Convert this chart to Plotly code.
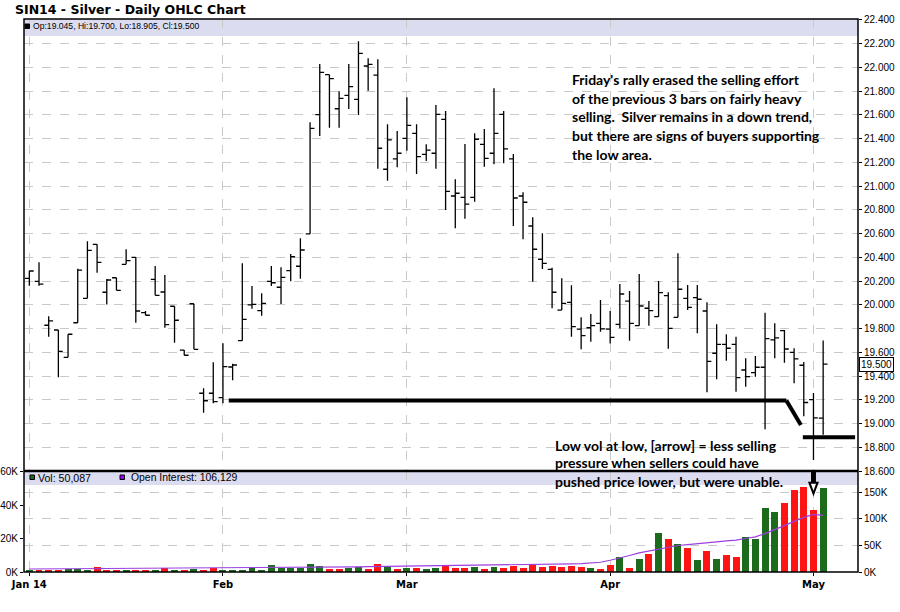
import pandas as pd
import plotly.graph_objects as go

# ---------------- data ----------------
holidays = ["2014-01-20", "2014-02-17", "2014-04-18"]
trading_days = [d for d in pd.bdate_range("2014-01-03", "2014-05-02")
                if d.strftime("%Y-%m-%d") not in holidays]
month_labels = ["Jan 14", "Feb", "Mar", "Apr", "May"]

opens = [20.223, 20.198, 19.828, 19.788, 19.558, 19.849, 20.055, 20.510, 20.106, 20.228,
         20.341, 20.400, 19.934, 20.215, 20.108, 19.988, 19.619, 20.009, 19.255, 19.255,
         19.219, 19.476, 19.698, 19.999, 19.951, 20.198, 20.148, 20.288, 20.325, 20.597,
         21.602, 21.939, 21.652, 21.765, 21.731, 22.012, 21.936, 21.142, 21.229, 21.403,
         21.445, 21.268, 21.277, 21.563, 20.917, 20.906, 20.906, 21.352, 21.277, 21.605,
         21.229, 20.917, 20.664, 20.384, 20.299, 19.956, 20.021, 19.796, 19.807, 19.844,
         19.796, 19.836, 20.032, 19.824, 19.971, 19.900, 20.077, 19.895, 20.055, 20.060,
         19.948, 19.592, 19.667, 19.667, 19.451, 19.428, 19.474, 19.704, 19.782, 19.600,
         19.491, 19.201, 19.045]
highs = [20.288, 20.358, 19.903, 19.788, 19.752, 20.304, 20.535, 20.510, 20.218, 20.228,
         20.468, 20.400, 19.948, 20.327, 20.251, 19.988, 19.619, 20.009, 19.297, 19.516,
         19.676, 19.503, 20.350, 20.159, 20.097, 20.327, 20.316, 20.428, 20.560, 21.538,
         22.029, 21.939, 21.799, 22.029, 22.220, 22.077, 22.068, 21.521, 21.464, 21.748,
         21.521, 21.352, 21.683, 21.633, 21.058, 21.355, 21.445, 21.481, 21.824, 21.633,
         21.271, 20.948, 20.737, 20.603, 20.313, 20.223, 20.164, 19.895, 19.923, 20.041,
         19.948, 20.175, 20.116, 20.260, 20.032, 20.201, 20.106, 20.434, 20.167, 20.167,
         20.021, 19.836, 19.752, 19.731, 19.550, 19.569, 19.934, 19.844, 19.788, 19.634,
         19.518, 19.257, 19.700]
lows = [20.161, 20.161, 19.731, 19.389, 19.558, 19.849, 20.055, 20.271, 20.003, 20.122,
        20.341, 19.849, 19.912, 20.080, 19.807, 19.681, 19.575, 19.625, 19.091, 19.170,
        19.170, 19.364, 19.698, 19.967, 19.908, 20.159, 20.007, 20.198, 20.220, 20.597,
        21.422, 21.492, 21.492, 21.650, 21.599, 21.804, 21.147, 21.046, 21.159, 21.298,
        21.102, 21.212, 21.147, 20.799, 20.645, 20.726, 20.869, 21.164, 21.184, 21.192,
        20.664, 20.552, 20.195, 20.302, 19.971, 19.956, 19.731, 19.625, 19.689, 19.774,
        19.674, 19.802, 19.698, 19.824, 19.824, 19.900, 19.630, 19.895, 19.956, 19.760,
        19.263, 19.373, 19.529, 19.268, 19.310, 19.395, 18.951, 19.550, 19.512, 19.339,
        19.061, 18.693, 18.905]
closes = [20.285, 20.175, 19.864, 19.608, 19.752, 20.293, 20.459, 20.358, 20.209, 20.122,
          20.372, 19.948, 19.912, 20.080, 19.833, 19.870, 19.575, 19.625, 19.192, 19.184,
          19.480, 19.493, 19.878, 20.004, 20.013, 20.186, 20.232, 20.405, 20.462, 21.487,
          21.959, 21.905, 21.740, 21.838, 22.119, 22.026, 21.319, 21.389, 21.277, 21.512,
          21.248, 21.304, 21.605, 20.956, 20.940, 20.849, 21.395, 21.234, 21.445, 21.313,
          20.900, 20.864, 20.468, 20.350, 20.106, 20.013, 19.816, 19.740, 19.824, 19.798,
          19.726, 20.091, 19.844, 19.990, 19.951, 20.102, 19.802, 20.131, 19.979, 20.047,
          19.524, 19.667, 19.634, 19.386, 19.395, 19.474, 19.716, 19.722, 19.628, 19.544,
          19.177, 19.047, 19.500]
volume = [1000, 1000, 1400, 1400, 1800, 1800, 1000, 3000, 1000, 1000,
          1000, 1000, 1000, 1000, 2200, 1400, 1000, 2000, 1000, 2400,
          1000, 1000, 1400, 2600, 1200, 4000, 2600, 2600, 2200, 4500,
          3500, 2000, 2000, 2500, 3000, 1800, 5000, 3000, 2000, 2500,
          2500, 1500, 2500, 4000, 2500, 2500, 3000, 2000, 3000, 2500,
          3500, 2500, 4000, 3000, 3500, 3000, 3500, 3000, 2500, 2000,
          4000, 8900, 2400, 8000, 10500, 23200, 19500, 16500, 14100, 7000,
          12500, 7600, 9900, 8900, 20900, 19500, 38400, 35600, 41100, 49300,
          51100, 36800, 50087]
open_interest = [5600, 5700, 5800, 5900, 6000, 6000, 6100, 6200, 6200, 6300,
                 6300, 6400, 6400, 6500, 6500, 6600, 6600, 6700, 6700, 6800,
                 6900, 7000, 7200, 7400, 7600, 7800, 8000, 8200, 8400, 8700,
                 9000, 9200, 9400, 9600, 9800, 10000, 10200, 10400, 10600, 10800,
                 11000, 11200, 11400, 11600, 11800, 12000, 12200, 12400, 12600, 12800,
                 13100, 13400, 13700, 14000, 14400, 14800, 15300, 15900, 16600, 18300,
                 22000, 26000, 31000, 36000, 39500, 43000, 47000, 49700, 51500, 52700,
                 54600, 56500, 58400, 59700, 62800, 65900, 72000, 79800, 87300, 94900,
                 102400, 108000, 106129]

# support / trend lines drawn on the chart (bar index, price)
support_line_x = [20.6, 78.2, 79.7]
support_line_y = [19.194, 19.194, 18.988]
low_line_x = [79.9, 85.3]
low_line_y = [18.884, 18.884]
arrow_bar = 81

note1 = ["Friday's rally erased the selling effort",
         "of the previous 3 bars on fairly heavy",
         "selling.  Silver remains in a down trend,",
         "but there are signs of buyers supporting",
         "the low area."]
note2 = ["Low vol at low, [arrow] = less selling",
         "pressure when sellers could have",
         "pushed price lower, but were unable."]

# ---------------- helpers ----------------
n = len(trading_days)
idx = list(range(n))
month_idx = [i for i in idx if i == 0 or trading_days[i].month != trading_days[i - 1].month]

W, H = 900, 612
ML, MR, MT, MB = 24, 42, 19, 40
PW, PH = W - ML - MR, H - MT - MB


def px(x):  # screen pixel x -> paper
    return (x - ML) / PW


def py(y):  # screen pixel y -> paper
    return (H - MB - y) / PH


split = py(471)
GREEN, RED, PURPLE = "#1c6b1c", "#ff1414", "#9b3fe0"
bar_colors = [GREEN if (closes[i] >= (closes[i - 1] if i else opens[0])) else RED for i in idx]

grid = dict(showgrid=True, gridcolor="#c9c9c9", griddash="dash", gridwidth=1)
tickfont = dict(family="Liberation Sans, Arial", size=10, color="black")

fig = go.Figure()
fig.add_trace(go.Ohlc(x=idx, open=opens, high=highs, low=lows, close=closes,
                      xaxis="x", yaxis="y", tickwidth=0.45,
                      increasing=dict(line=dict(color="black", width=1.3)),
                      decreasing=dict(line=dict(color="black", width=1.3)),
                      showlegend=False))
fig.add_trace(go.Bar(x=idx, y=volume, marker=dict(color=bar_colors, line=dict(width=0)),
                     width=0.72, xaxis="x2", yaxis="y2", showlegend=False))
fig.add_trace(go.Scatter(x=idx, y=open_interest, mode="lines",
                         line=dict(color=PURPLE, width=1.2),
                         xaxis="x2", yaxis="y3", showlegend=False))

xr = [-0.55, 85.6]
price_ticks = [round(18.6 + 0.2 * k, 1) for k in range(20)]

fig.update_layout(
    width=W, height=H, margin=dict(l=ML, r=MR, t=MT, b=MB, autoexpand=False),
    paper_bgcolor="white", plot_bgcolor="white", showlegend=False,
    bargap=0,
    xaxis=dict(domain=[0, 1], anchor="y", range=xr, tickvals=month_idx,
               showticklabels=False, ticks="", zeroline=False, automargin=False,
               rangeslider=dict(visible=False), **grid),
    xaxis2=dict(domain=[0, 1], anchor="y2", range=xr, tickvals=month_idx,
                ticktext=["<b>%s</b>" % m for m in month_labels],
                tickfont=dict(family="DejaVu Sans", size=10, color="black"),
                ticks="outside", ticklen=3, tickcolor="black", zeroline=False,
                automargin=False, rangeslider=dict(visible=False), **grid),
    yaxis=dict(domain=[split, 1], anchor="x", side="right", range=[18.6, 22.408],
               tickvals=price_ticks, ticktext=["%.3f" % v for v in price_ticks],
               tickfont=tickfont, ticks="outside", ticklen=3, tickcolor="black",
               zeroline=False, automargin=False, **grid),
    yaxis2=dict(domain=[0, split], anchor="x2", side="left", range=[0, 60400],
                tickvals=[0, 20000, 40000, 60000], ticktext=["0K", "20K", "40K", "60K"],
                tickfont=tickfont, ticks="outside", ticklen=3, tickcolor="black",
                showgrid=False, zeroline=False, automargin=False),
    yaxis3=dict(overlaying="y2", anchor="x2", side="right", range=[0, 189500],
                tickvals=[0, 50000, 100000, 150000], ticktext=["0K", "50K", "100K", "150K"],
                tickfont=tickfont, ticks="outside", ticklen=3, tickcolor="black",
                zeroline=False, automargin=False, **grid),
)

shapes = []
# header bands
shapes.append(dict(type="rect", xref="paper", yref="paper", x0=0, x1=1, y0=py(36), y1=1,
                   fillcolor="#dcdcf0", line=dict(width=0), layer="between"))
shapes.append(dict(type="rect", xref="paper", yref="paper", x0=0, x1=1, y0=py(485), y1=split,
                   fillcolor="#dcdcf0", line=dict(width=0), layer="between"))
# frame
shapes.append(dict(type="rect", xref="paper", yref="paper", x0=0, x1=1, y0=0, y1=1,
                   line=dict(color="black", width=1.5), layer="above"))
shapes.append(dict(type="line", xref="paper", yref="paper", x0=0, x1=1, y0=split, y1=split,
                   line=dict(color="black", width=2.5), layer="above"))
# support / trend lines
for i in range(len(support_line_x) - 1):
    shapes.append(dict(type="line", xref="x", yref="y",
                       x0=support_line_x[i], x1=support_line_x[i + 1],
                       y0=support_line_y[i], y1=support_line_y[i + 1],
                       line=dict(color="black", width=4)))
shapes.append(dict(type="line", xref="x", yref="y", x0=low_line_x[0], x1=low_line_x[1],
                   y0=low_line_y[0], y1=low_line_y[1], line=dict(color="black", width=4)))
# arrow (shaft + hollow head)
shapes.append(dict(type="line", xref="x2", yref="y2", x0=arrow_bar, x1=arrow_bar,
                   y0=60400, y1=53000, line=dict(color="black", width=5), layer="above"))
shapes.append(dict(type="path", xref="x2", yref="y2",
                   path="M %f,%f L %f,%f L %f,%f Z" % (arrow_bar - 0.42, 53400, arrow_bar + 0.42, 53400,
                                                      arrow_bar, 46900),
                   fillcolor="white", line=dict(color="black", width=2), layer="above"))
# legend squares
shapes.append(dict(type="rect", xref="paper", yref="paper", x0=px(25), x1=px(29.5), y0=py(28.5), y1=py(24),
                   fillcolor="black", line=dict(color="black", width=1), layer="above"))
shapes.append(dict(type="rect", xref="paper", yref="paper", x0=px(30), x1=px(34.5), y0=py(479.5), y1=py(475),
                   fillcolor=GREEN, line=dict(color="black", width=1), layer="above"))
shapes.append(dict(type="rect", xref="paper", yref="paper", x0=px(120), x1=px(124.5), y0=py(479.5), y1=py(475),
                   fillcolor="#9900ff", line=dict(color="black", width=1), layer="above"))
fig.update_layout(shapes=shapes)

ann = []
ann.append(dict(xref="paper", yref="paper", x=px(13), y=py(9.5), xanchor="left", yanchor="middle",
                text="<b>SIN14 - Silver - Daily OHLC Chart</b>", showarrow=False,
                font=dict(family="DejaVu Sans", size=12.5, color="black")))
ann.append(dict(xref="paper", yref="paper", x=px(31), y=py(26.5), xanchor="left", yanchor="middle",
                text="Op:%.3f, Hi:%.3f, Lo:%.3f, Cl:%.3f" % (opens[-1], highs[-1], lows[-1], closes[-1]),
                showarrow=False, font=dict(family="Liberation Sans, Arial", size=8.6, color="black")))
ann.append(dict(xref="paper", yref="paper", x=px(36), y=py(477.5), xanchor="left", yanchor="middle",
                text="Vol: {:,}".format(volume[-1]), showarrow=False,
                font=dict(family="Liberation Sans, Arial", size=10.6, color="black")))
ann.append(dict(xref="paper", yref="paper", x=px(129), y=py(477.5), xanchor="left", yanchor="middle",
                text="Open Interest: {:,}".format(open_interest[-1]), showarrow=False,
                font=dict(family="Liberation Sans, Arial", size=10.4, color="black")))
note_font = dict(family="Lato", size=14, color="black")
for k, line in enumerate(note1):
    ann.append(dict(xref="paper", yref="paper", x=px(570), y=py(80 + 18.5 * k), xanchor="left",
                    yanchor="middle", text="<b>%s</b>" % line, showarrow=False, font=note_font))
for k, line in enumerate(note2):
    ann.append(dict(xref="paper", yref="paper", x=px(553), y=py(445 + 18 * k), xanchor="left",
                    yanchor="middle", text="<b>%s</b>" % line, showarrow=False, font=note_font))
ann.append(dict(xref="paper", yref="y", x=1.0, y=closes[-1], xanchor="left", yanchor="middle",
                xshift=1, text="%.3f" % closes[-1], showarrow=False, bgcolor="white",
                bordercolor="black", borderwidth=1, borderpad=1,
                font=dict(family="Liberation Sans, Arial", size=10, color="black")))
fig.update_layout(annotations=ann)

# place the 900x612 figure flush with the page corner (no default body margin), no modebar
fig.write_html("out.html", config={"displayModeBar": False},
               post_script="document.body.style.margin='0';")
